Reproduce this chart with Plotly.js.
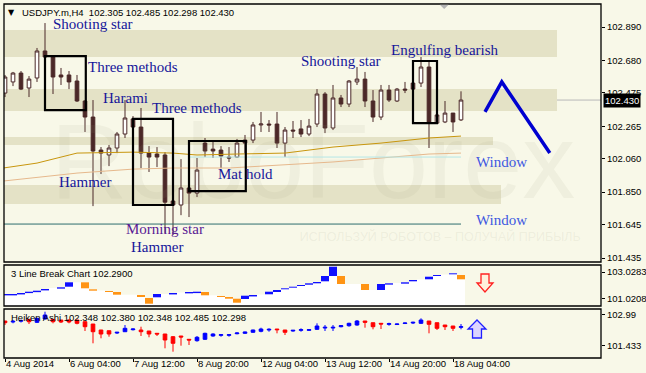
<!DOCTYPE html>
<html><head><meta charset="utf-8">
<script src="https://cdn.plot.ly/plotly-3.0.1.min.js"></script>
<style>html,body{margin:0;padding:0;background:#f8f8e8;}#chart{width:646px;height:373px;}</style>
</head><body><div id="chart"></div>
<script>
// ---------- main USDJPY H4 candles ----------
const openP  = [102.474,102.544,102.600,102.506,102.569,102.739,102.701,102.588,102.588,102.550,102.424,102.323,102.115,102.084,102.128,102.216,102.311,102.260,102.096,102.090,102.084,101.794,101.769,101.876,101.844,102.159,102.121,102.115,102.071,102.071,102.178,102.178,102.273,102.279,102.279,102.159,102.241,102.248,102.216,102.279,102.468,102.254,102.443,102.405,102.544,102.562,102.424,102.323,102.493,102.424,102.499,102.537,102.537,102.638,102.285,102.292,102.348,102.305];
const highP  = [102.588,102.607,102.613,102.581,102.758,102.915,102.705,102.632,102.613,102.588,102.430,102.430,102.134,102.147,102.229,102.430,102.329,102.380,102.140,102.134,102.102,102.071,102.058,102.058,102.065,102.191,102.166,102.140,102.134,102.185,102.210,102.292,102.355,102.304,102.355,102.260,102.298,102.304,102.311,102.499,102.480,102.525,102.462,102.556,102.638,102.607,102.493,102.525,102.525,102.506,102.544,102.556,102.701,102.682,102.348,102.424,102.348,102.485];
const lowP   = [102.449,102.518,102.493,102.449,102.544,102.698,102.468,102.525,102.499,102.418,102.229,101.762,101.964,102.014,102.096,102.191,102.241,102.002,101.977,102.008,101.592,101.580,101.705,101.693,101.819,102.071,102.065,102.002,102.040,102.065,102.096,102.159,102.229,102.229,102.128,102.071,102.191,102.197,102.203,102.260,102.222,102.241,102.386,102.386,102.525,102.386,102.292,102.304,102.418,102.418,102.474,102.480,102.512,102.128,102.280,102.285,102.229,102.298];
const closeP = [102.575,102.600,102.499,102.562,102.739,102.701,102.575,102.575,102.544,102.424,102.323,102.109,102.096,102.128,102.216,102.317,102.260,102.096,102.071,102.071,101.787,101.769,101.876,101.844,101.989,102.109,102.109,102.077,102.065,102.159,102.159,102.273,102.279,102.273,102.159,102.241,102.235,102.216,102.266,102.468,102.254,102.443,102.405,102.550,102.562,102.424,102.323,102.493,102.430,102.499,102.493,102.499,102.638,102.292,102.336,102.348,102.292,102.430];

// x-axis tick labels (bar index of each label)
const tickIndex = [0, 8, 16, 24, 32, 40, 48, 56];
const tickLabels = ['4 Aug 2014','6 Aug 04:00','7 Aug 12:00','8 Aug 20:00','12 Aug 04:00','13 Aug 12:00','14 Aug 20:00','18 Aug 04:00'];
const priceTicks = [102.890, 102.680, 102.475, 102.265, 102.060, 101.850, 101.645, 101.435];

// moving averages (read at sample bars)
const maFastIdx = [-0.2, 4, 9, 16, 21, 24, 29, 35, 41, 47, 53, 57];
const maFastVal = [102.002,102.033,102.096,102.102,102.096,102.084,102.090,102.096,102.134,102.159,102.191,102.203];
const maSlowIdx = [-0.2, 9, 16, 21, 28, 35, 41, 47, 53, 57];
const maSlowVal = [101.920,101.970,101.995,102.002,102.002,102.021,102.040,102.065,102.090,102.096];

// horizontal levels
const cyanLevelIdx = [23, 57];   const cyanLevelVal = [102.071, 102.071];
const tealLevelIdx = [-0.2, 57]; const tealLevelVal = [101.649, 101.649];

// forecast zigzag
const zigIdx = [60, 62.1, 68.1];
const zigVal = [102.355, 102.544, 102.096];

// shaded zones
const bandTop    = [102.871, 102.499, 102.197, 101.895];
const bandBottom = [102.701, 102.361, 102.147, 101.775];
const bandEnd    = [69, 69, 61, 62];

// pattern boxes
const boxX0 = [5, 16, 23, 51];
const boxX1 = [10.1, 21, 30.1, 54];
const boxTop = [102.707, 102.311, 102.172, 102.676];
const boxBottom = [102.367, 101.769, 101.857, 102.285];

// pattern labels
const noteText = ['Shooting star','Three methods','Harami','Three methods','Hammer','Morning star','Hammer','Mat hold','Shooting star','Engulfing bearish','Window','Window'];
const noteIdx  = [11.06, 15.94, 15.0, 23.94, 9.94, 20.06, 19.0, 30.06, 42.06, 55.06, 62.0, 62.0];
const noteVal  = [102.909, 102.638, 102.443, 102.380, 101.914, 101.617, 101.504, 101.964, 102.676, 102.745, 102.040, 101.674];
const noteColor= ['#16169a','#16169a','#16169a','#16169a','#16169a','#5a1a94','#16169a','#16169a','#16169a','#16169a','#4058e0','#4058e0'];

// ---------- 3 Line Break panel ----------
const lbIdx    = [0,1,2,3,4,5,7,8,10,11,13,14,17,18,19,21,23,24,25,27,28,29,30,31,33,34,35,36,37,38,39,40,41,42,45,47,48,50,51,53,54,56,57];
const lbTop    = [101.393,101.393,101.467,101.564,101.638,101.764,101.891,102.263,102.263,101.742,101.616,101.541,101.318,101.095,101.393,101.467,101.541,101.564,101.541,101.244,101.170,101.043,101.266,101.318,101.564,101.690,101.817,101.935,102.062,102.188,102.285,102.731,103.422,102.731,102.136,102.136,102.188,102.263,102.434,102.679,102.805,102.932,102.805];
const lbBottom = [101.290,101.290,101.360,101.460,101.530,101.660,101.790,101.935,101.817,101.638,101.541,101.341,101.170,100.671,101.147,101.360,101.440,101.460,101.296,101.170,101.043,100.746,101.021,101.210,101.371,101.541,101.742,101.861,101.988,102.084,102.188,102.337,102.731,102.136,101.690,101.690,102.090,102.160,102.337,102.486,102.731,102.857,102.486];
const lbDir    = ['U','U','U','U','U','U','U','U','D','D','D','D','D','D','U','U','U','U','D','D','D','D','U','U','U','U','U','U','U','U','U','U','U','D','D','U','U','U','U','U','U','U','D'];
const lbFillTop= [101.393,101.393,101.467,101.564,101.638,101.764,101.839,101.891,102.263,102.263,102.263,101.742,101.653,101.616,101.541,101.341,101.341,101.318,101.095,101.393,101.393,101.467,101.504,101.541,101.564,101.541,101.296,101.244,101.170,101.043,101.266,101.318,101.350,101.564,101.690,101.817,101.935,102.062,102.188,102.285,102.731,103.422,102.731,102.136,102.136,102.136,101.690,102.136,102.188,102.210,102.263,102.434,102.471,102.679,102.805,102.842,102.932,102.805];
const lbTicks = [103.0283, 101.0208];

// ---------- Heiken Ashi panel ----------
const haOpen  = [102.688,102.638,102.678,102.773,102.622,102.788,102.773,102.738,102.738,102.738,102.653,102.537,102.236,102.201,102.085,102.151,102.251,102.236,102.186,102.070,102.035,101.900,101.935,101.769,101.699,101.769,101.935,101.970,101.970,102.050,102.070,102.121,102.171,102.236,102.286,102.236,102.186,102.221,102.221,102.271,102.336,102.336,102.402,102.452,102.487,102.688,102.602,102.572,102.522,102.512,102.562,102.587,102.572,102.688,102.602,102.487,102.437,102.372];
const haHigh  = [102.688,102.738,102.763,102.773,102.838,103.155,102.773,102.738,102.773,102.738,102.653,102.537,102.236,102.201,102.136,102.487,102.311,102.402,102.186,102.070,102.035,101.935,101.935,101.769,101.935,102.100,102.070,102.035,102.035,102.121,102.151,102.251,102.351,102.321,102.286,102.236,102.236,102.321,102.271,102.572,102.487,102.487,102.487,102.602,102.738,102.688,102.602,102.572,102.602,102.552,102.602,102.653,102.823,102.688,102.602,102.487,102.437,102.537];
const haLow   = [102.487,102.572,102.612,102.537,102.587,102.763,102.572,102.587,102.572,102.522,102.186,101.568,101.819,101.900,102.035,102.151,102.211,101.935,101.870,101.935,101.317,101.147,101.448,101.483,101.649,101.734,101.900,101.900,101.900,102.020,102.035,102.100,102.121,102.151,102.070,101.985,102.151,102.151,102.201,102.236,102.186,102.186,102.372,102.402,102.452,102.351,102.271,102.286,102.452,102.487,102.537,102.537,102.537,102.070,102.236,102.236,102.186,102.271];
const haClose = [102.603,102.673,102.713,102.653,102.823,102.989,102.653,102.638,102.638,102.572,102.402,102.151,102.035,102.035,102.121,102.321,102.286,102.151,102.035,102.035,101.734,101.568,101.885,101.734,101.870,102.070,102.035,102.000,102.000,102.085,102.136,102.236,102.286,102.271,102.251,102.121,102.221,102.251,102.251,102.437,102.372,102.372,102.452,102.572,102.688,102.622,102.402,102.537,102.552,102.537,102.587,102.622,102.738,102.522,102.321,102.402,102.321,102.402];
const haTicks = [102.99, 101.433];
const haTickText = ['102.99', '101.433'];

// signal arrows (decorations): [x index, top level, bottom level]
const downArrowAt = [60, 102.88, 101.541];
const upArrowAt   = [59, 102.738, 101.834];

// ---------- build ----------
const idx = openP.map((_, i) => i);
const BG = '#f8f8e8';
const CANDLE = '#4b2828';
const SMALL = {family: 'Liberation Sans, Arial, sans-serif', size: 9.5, color: '#000'};

const traces = [];
traces.push({type:'scatter', mode:'text', x:[38.5, 54.4], y:[101.977, 101.561], text:['RoboForex','ИСПОЛЬЗУЙ РОБОТОВ – ПОЛУЧАЙ ПРИБЫЛЬ'],
  textfont:{family:'Liberation Sans, Arial, sans-serif', size:[106, 12.5], color:['rgba(150,150,120,0.09)','rgba(150,150,120,0.11)']},
  xaxis:'x', yaxis:'y', hoverinfo:'skip', showlegend:false, cliponaxis:true});
traces.push({type:'scatter', mode:'lines', x:maSlowIdx, y:maSlowVal, line:{color:'#e6b88c', width:1}, xaxis:'x', yaxis:'y', showlegend:false});
traces.push({type:'scatter', mode:'lines', x:maFastIdx, y:maFastVal, line:{color:'#c8960e', width:1}, xaxis:'x', yaxis:'y', showlegend:false});
traces.push({type:'scatter', mode:'lines', x:cyanLevelIdx, y:cyanLevelVal, line:{color:'#b4e6e6', width:1}, xaxis:'x', yaxis:'y', showlegend:false});
traces.push({type:'scatter', mode:'lines', x:tealLevelIdx, y:tealLevelVal, line:{color:'#2e6e6e', width:1}, xaxis:'x', yaxis:'y', showlegend:false});
traces.push({type:'candlestick', x:idx, open:openP, high:highP, low:lowP, close:closeP, xaxis:'x', yaxis:'y',
  increasing:{line:{color:CANDLE, width:1}, fillcolor:'#ffffff'},
  decreasing:{line:{color:CANDLE, width:1}, fillcolor:CANDLE}, showlegend:false, hoverinfo:'skip'});
traces.push({type:'scatter', mode:'lines', x:zigIdx, y:zigVal, line:{color:'#0000d0', width:3.5}, xaxis:'x', yaxis:'y', showlegend:false});

// 3 line break
const lbBase = 100.5;
traces.push({type:'bar', x:idx, y:lbFillTop.map(v => v - lbBase), base:lbBase, width:1,
  marker:{color:'#ffffff', line:{width:0}}, xaxis:'x', yaxis:'y2', showlegend:false, hoverinfo:'skip'});
traces.push({type:'bar', x:lbIdx, y:lbTop.map((t, i) => t - lbBottom[i]), base:lbBottom, width:1,
  marker:{color:lbDir.map(d => d === 'U' ? '#1010ff' : '#ff9414'), line:{width:0}}, xaxis:'x', yaxis:'y2', showlegend:false, hoverinfo:'skip'});

// Heiken Ashi
traces.push({type:'candlestick', x:idx, open:haOpen, high:haHigh, low:haLow, close:haClose, xaxis:'x', yaxis:'y3',
  increasing:{line:{color:'#0000ff', width:1}, fillcolor:'#0000ff'},
  decreasing:{line:{color:'#ff0000', width:1}, fillcolor:'#ff0000'}, showlegend:false, hoverinfo:'skip'});

const D1 = [0.2712, 1], D2 = [0.1469, 0.2627], D3 = [0, 0.1384];
const shapes = [];
bandTop.forEach((t, i) => shapes.push({type:'rect', xref:'x', yref:'y', x0:-1, x1:bandEnd[i], y0:bandBottom[i], y1:t,
  fillcolor:'#e4e2c6', line:{width:0}, layer:'below'}));
const lastClose = closeP[closeP.length - 1];
shapes.push({type:'line', xref:'paper', yref:'y', x0:0, x1:1, y0:lastClose, y1:lastClose, line:{color:'#b8b8b8', width:1}, layer:'below'});
boxX0.forEach((x0, i) => shapes.push({type:'rect', xref:'x', yref:'y', x0:x0, x1:boxX1[i], y0:boxBottom[i], y1:boxTop[i],
  line:{color:'#000', width:2.2}, fillcolor:'rgba(0,0,0,0)', layer:'above'}));
// panel frames
[D1, D2, D3].forEach(d => shapes.push({type:'rect', xref:'paper', yref:'paper', x0:0, x1:1, y0:d[0], y1:d[1], line:{color:'#000', width:1.3}, fillcolor:'rgba(0,0,0,0)'}));
// chart-shift marker at top
shapes.push({type:'path', xref:'x', yref:'paper', path:'M 54.35,0.998 L 55.45,0.998 L 54.9,0.986 Z', fillcolor:'#b4b4b4', line:{width:0}});
// arrows
{
  const [ax, top, tip] = downArrowAt; const mid = top - (top - tip) / 2;
  shapes.push({type:'path', xref:'x', yref:'y2', path:`M ${ax-0.5},${top} L ${ax+0.5},${top} L ${ax+0.5},${mid} L ${ax+1},${mid} L ${ax},${tip} L ${ax-1},${mid} L ${ax-0.5},${mid} Z`,
    fillcolor:'#fff0dc', line:{color:'#ff2020', width:1.3}});
  const [bx, utip, ubot] = upArrowAt; const umid = utip - (utip - ubot) / 2;
  shapes.push({type:'path', xref:'x', yref:'y3', path:`M ${bx-0.56},${ubot} L ${bx+0.56},${ubot} L ${bx+0.56},${umid} L ${bx+1.12},${umid} L ${bx},${utip} L ${bx-1.12},${umid} L ${bx-0.56},${umid} Z`,
    fillcolor:'#dcd4ff', line:{color:'#2020ff', width:1.3}});
}

const annotations = [];
noteText.forEach((t, i) => annotations.push({xref:'x', yref:'y', x:noteIdx[i], y:noteVal[i], xanchor:'center', yanchor:'middle', text:t, showarrow:false,
  font:{family:'Liberation Serif, Times New Roman, serif', size:15, color:noteColor[i]}}));
annotations.push({xref:'paper', yref:'paper', x:0.0134, y:0.9746, xanchor:'center', yanchor:'middle', text:'▼', showarrow:false, font:{family:'DejaVu Sans', size:8, color:'#000'}});
annotations.push({xref:'paper', yref:'paper', x:0.0268, y:0.9746, xanchor:'left', yanchor:'middle', showarrow:false, font:SMALL,
  text:`USDJPY.m,H4  ${openP[57].toFixed(3)} ${highP[57].toFixed(3)} ${lowP[57].toFixed(3)} ${closeP[57].toFixed(3)}`});
annotations.push({xref:'paper', yref:'paper', x:0.0084, y:0.2373, xanchor:'left', yanchor:'middle', showarrow:false, font:SMALL, text:'3 Line Break Chart 102.2900'});
annotations.push({xref:'paper', yref:'paper', x:0.0084, y:0.113, xanchor:'left', yanchor:'middle', showarrow:false, font:SMALL, text:'Heiken Ashi 102.348 102.380 102.348 102.485 102.298'});
annotations.push({xref:'paper', yref:'y', x:1.0034, y:lastClose, xanchor:'left', yanchor:'middle', showarrow:false, bgcolor:'#000', borderpad:1,
  font:{family:SMALL.family, size:9.5, color:'#fff'}, text:lastClose.toFixed(3)});
// time-axis labels, left-aligned at their tick like the terminal draws them
tickIndex.forEach((ti, i) => annotations.push({xref:'x', yref:'paper', x:Math.max(ti - 0.15, -0.1), y:-0.0155, xanchor:'left', yanchor:'middle',
  showarrow:false, font:SMALL, text:tickLabels[i]}));

const yCommon = {side:'right', anchor:'x', showgrid:false, zeroline:false, ticks:'outside', ticklen:3, tickcolor:'#000', tickfont:SMALL, fixedrange:true};
const layout = {
  width:646, height:373, margin:{l:4, r:45, t:4, b:15},
  paper_bgcolor:BG, plot_bgcolor:BG, showlegend:false, barmode:'overlay', boxgap:0.35, hovermode:false,
  xaxis:{domain:[0,1], anchor:'y3', range:[-0.125, 74.5], showgrid:false, zeroline:false, rangeslider:{visible:false},
    tickvals:tickIndex, ticks:'outside', ticklen:3, tickcolor:'#000', showticklabels:false},
  yaxis:Object.assign({}, yCommon, {domain:D1, range:[101.410, 103.035], tickvals:priceTicks, ticktext:priceTicks.map(v => v.toFixed(3))}),
  yaxis2:Object.assign({}, yCommon, {domain:D2, range:[100.500, 103.549], tickvals:lbTicks, ticktext:lbTicks.map(v => v.toFixed(4))}),
  yaxis3:Object.assign({}, yCommon, {domain:D3, range:[100.830, 103.291], tickvals:haTicks, ticktext:haTickText}),
  shapes:shapes, annotations:annotations
};
Plotly.newPlot('chart', traces, layout, {staticPlot:true, displayModeBar:false});
</script></body></html>
